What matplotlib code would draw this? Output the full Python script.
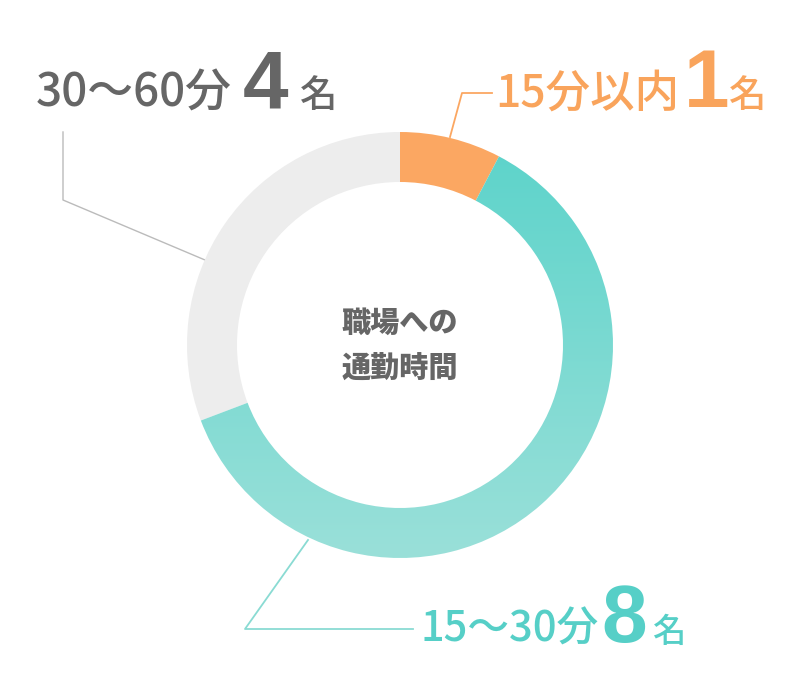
import numpy as np
import matplotlib.pyplot as plt
from matplotlib.colors import LinearSegmentedColormap

plt.rcParams['font.family'] = ['Noto Sans CJK JP', 'DejaVu Sans']

# データ
labels = ['15分以内', '15〜30分', '30〜60分']
counts = [1, 8, 4]
unit = '名'
colors = ['#fba762', '#5dd3cb', '#ededed']
text_colors = ['#f9a45c', '#56cfc7', '#666666']
center_title = ['職場への', '通勤時間']

W, H = 800, 691
fig = plt.figure(figsize=(8, 6.91), dpi=100)
ax = fig.add_axes([0, 0, 1, 1])

# ドーナツ
cx, cy, R, ring = 400, H - 345, 213, 50
wedges, _ = ax.pie(counts, startangle=90, counterclock=False, radius=R,
                   center=(cx, cy), colors=colors,
                   wedgeprops=dict(width=ring, linewidth=0))

# 15〜30分 はグラデーション
grad = np.linspace(0, 1, 256).reshape(-1, 1)
cmap = LinearSegmentedColormap.from_list('teal', ['#5bd3ca', '#9ae0d9'])
im = ax.imshow(grad, cmap=cmap, extent=(cx - R, cx + R, cy - R, cy + R),
               origin='upper', aspect='auto', zorder=wedges[1].get_zorder())
im.set_clip_path(wedges[1])
wedges[1].set_facecolor('none')

# 引き出し線
ax.plot([450, 462, 492], [H - 137, H - 93, H - 93], color=colors[0], lw=1.3, zorder=0.5)
ax.plot([308, 245, 413], [H - 540, H - 629, H - 629], color='#8adbd3', lw=1.3, zorder=0.5)
ax.plot([63, 63, 205], [H - 132, H - 200, H - 260], color='#bbbbbb', lw=1.0, zorder=0.5)

# ラベル
def label(x, y, name, n, col, s_name, s_unit, gap1, gap2):
    ax.text(x, H - y, name, fontsize=s_name, color=col, va='baseline',
            fontweight='medium')
    ax.text(x + gap1, H - y, str(n), fontsize=59, color=col, va='baseline',
            fontweight='bold', family=['Liberation Sans'])
    ax.text(x + gap2, H - y, unit, fontsize=s_unit, color=col, va='baseline',
            fontweight='medium')

label(36, 107, labels[2], counts[2], text_colors[2], 33, 27, 207, 264)
label(495, 107, labels[0], counts[0], text_colors[0], 32, 27, 189, 234)
label(421, 642, labels[1], counts[1], text_colors[1], 30, 24, 180, 231)

# 中央テキスト
ax.text(cx, H - 323, center_title[0], fontsize=21, fontweight='heavy',
        color='#666666', ha='center', va='center')
ax.text(cx, H - 368, center_title[1], fontsize=21, fontweight='heavy',
        color='#666666', ha='center', va='center')

ax.set_xlim(0, W)
ax.set_ylim(0, H)
ax.set_aspect('equal')
ax.axis('off')

fig.savefig('out.png', dpi=100, facecolor='white')
